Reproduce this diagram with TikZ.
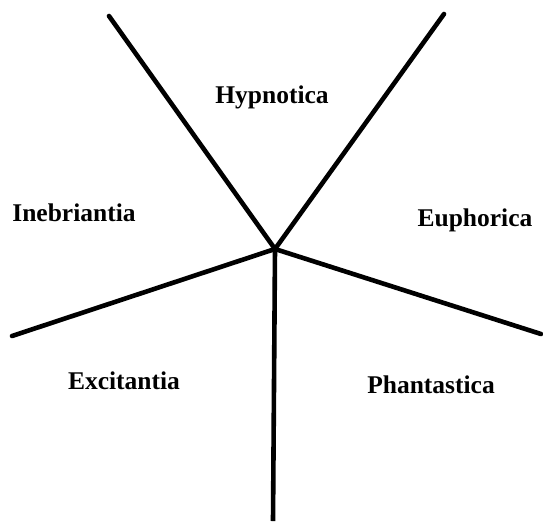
\documentclass[tikz,border=0pt]{standalone}
\usepackage{fontspec}
\setmainfont{Liberation Serif}
\begin{document}
\begin{tikzpicture}[x=1pt,y=-1pt,
  ray/.style={line width=4.6pt,line cap=round},
  lbl/.style={font=\bfseries\fontsize{25.5}{28}\selectfont,inner sep=0pt}]
\useasboundingbox (0,0) rectangle (543,523);
\coordinate (c) at (275,249);
\coordinate (ul) at (109,16);
\coordinate (ur) at (444,14);
\coordinate (l) at (12,336);
\coordinate (r) at (541,334);
\coordinate (b) at (273,521);
\draw[ray] (c) -- (ul);
\draw[ray] (c) -- (ur);
\draw[ray] (c) -- (l);
\draw[ray] (c) -- (r);
\draw[ray,line cap=butt] (c) -- (b);
\node[lbl] (hyp) at (272,97) {Hypnotica};
\node[lbl] (ine) at (74,213) {Inebriantia};
\node[lbl] (eup) at (475,220) {Euphorica};
\node[lbl] (exc) at (124,381) {Excitantia};
\node[lbl] (pha) at (431,385) {Phantastica};
\end{tikzpicture}
\end{document}
